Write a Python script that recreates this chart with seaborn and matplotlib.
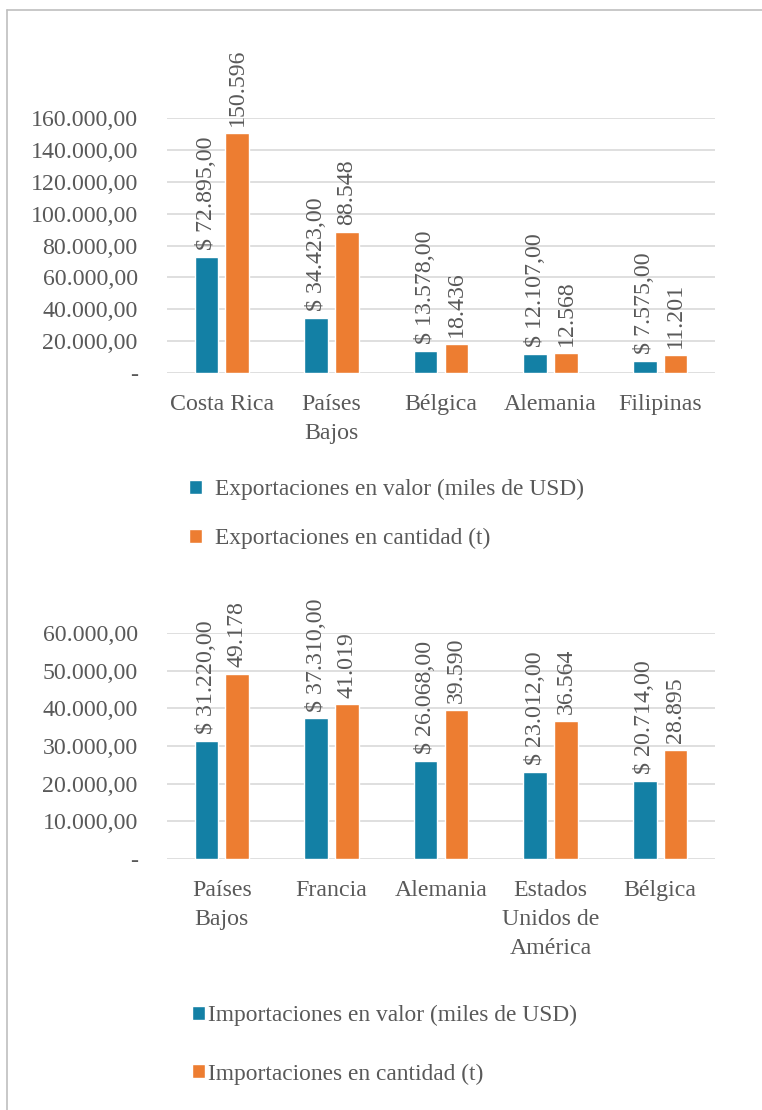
import matplotlib
matplotlib.use("Agg")
import matplotlib.pyplot as plt
from matplotlib.lines import Line2D
from matplotlib.ticker import FuncFormatter, MultipleLocator
import seaborn as sns
import pandas as pd

# ---- data ----
exp_countries = ["Costa Rica", "Países\nBajos", "Bélgica", "Alemania", "Filipinas"]
exp_valor = [72895, 34423, 13578, 12107, 7575]
exp_cantidad = [150596, 88548, 18436, 12568, 11201]
exp_series = ["Exportaciones en valor (miles de USD)", "Exportaciones en cantidad (t)"]

imp_countries = ["Países\nBajos", "Francia", "Alemania", "Estados\nUnidos de\nAmérica", "Bélgica"]
imp_valor = [31220, 37310, 26068, 23012, 20714]
imp_cantidad = [49178, 41019, 39590, 36564, 28895]
imp_series = ["Importaciones en valor (miles de USD)", "Importaciones en cantidad (t)"]

BLUE = "#1380A5"
ORANGE = "#ED7D31"
GRID = "#D9D9D9"
TXT = "#595959"
FS = 17.2
LFS = 16.8

sns.set_theme(style="white")
plt.rcParams["font.family"] = ["Liberation Serif", "DejaVu Serif"]
plt.rcParams["text.color"] = TXT

W, H = 762, 1110
fig = plt.figure(figsize=(W / 100, H / 100), dpi=100)


def es_num(v, dec):
    s = f"{v:,.{dec}f}"
    return s.replace(",", "X").replace(".", ",").replace("X", ".")


def tick_fmt(v, pos):
    if abs(v) < 1e-9:
        return "-"
    return es_num(v, 2)


def draw(rect, countries, valor, cantidad, series, ymax, ystep):
    ax = fig.add_axes(rect)
    df = pd.DataFrame({
        "pais": countries * 2,
        "serie": [series[0]] * len(countries) + [series[1]] * len(countries),
        "valor": list(valor) + list(cantidad),
    })
    sns.barplot(data=df, x="pais", y="valor", hue="serie", order=countries,
                hue_order=series, palette=[BLUE, ORANGE], width=0.56,
                ax=ax, errorbar=None, saturation=1)
    bw = 0.215
    for cont in ax.containers:
        for p in cont.patches:
            c = p.get_x() + p.get_width() / 2
            p.set_width(bw)
            p.set_x(c - bw / 2)
    labels0 = ["$ " + es_num(v, 2) for v in valor]
    labels1 = [es_num(v, 0) for v in cantidad]
    ax.bar_label(ax.containers[0], labels=labels0, rotation=90, padding=5,
                 fontsize=FS, color=TXT)
    ax.bar_label(ax.containers[1], labels=labels1, rotation=90, padding=5,
                 fontsize=FS, color=TXT)
    ax.set_ylim(0, ymax)
    ax.set_xlim(-0.5, len(countries) - 0.5)
    ax.yaxis.set_major_locator(MultipleLocator(ystep))
    ax.yaxis.set_major_formatter(FuncFormatter(tick_fmt))
    ax.grid(axis="y", color=GRID, linewidth=1.2)
    ax.set_axisbelow(True)
    for s in ax.spines.values():
        s.set_visible(False)
    ax.tick_params(axis="both", length=0, labelsize=FS, labelcolor=TXT)
    ax.tick_params(axis="y", pad=21)
    ax.tick_params(axis="x", pad=15)
    ax.set_xlabel("")
    ax.set_ylabel("")
    for t in ax.get_xticklabels():
        t.set_linespacing(1.5)
    leg = ax.get_legend()
    if leg is not None:
        leg.remove()
    return ax


ax1 = draw([167 / W, 1 - 373 / H, (715 - 167) / W, (373 - 118) / H],
           exp_countries, exp_valor, exp_cantidad, exp_series, 160000, 20000)
ax2 = draw([167 / W, 1 - 859 / H, (715 - 167) / W, (859 - 633) / H],
           imp_countries, imp_valor, imp_cantidad, imp_series, 60000, 10000)

h1 = [ax1.containers[0].patches[0], ax1.containers[1].patches[0]]
fig.legend(h1, exp_series, loc="upper left", bbox_to_anchor=(168 / W, 1 - 458 / H),
           bbox_transform=fig.transFigure, frameon=False, fontsize=LFS,
           handlelength=0.55, handleheight=0.55, handletextpad=0.55,
           labelspacing=1.2, labelcolor=TXT)
h2 = [ax2.containers[0].patches[0], ax2.containers[1].patches[0]]
fig.legend(h2, imp_series, loc="upper left", bbox_to_anchor=(171 / W, 1 - 984 / H),
           bbox_transform=fig.transFigure, frameon=False, fontsize=LFS,
           handlelength=0.55, handleheight=0.55, handletextpad=0.15,
           labelspacing=1.6, labelcolor=TXT)

# chart border (top and left edges)
fig.add_artist(Line2D([7 / W, 1], [1 - 10 / H, 1 - 10 / H], transform=fig.transFigure,
                      color="#BFBFBF", linewidth=1.2))
fig.add_artist(Line2D([7 / W, 7 / W], [0, 1 - 10 / H], transform=fig.transFigure,
                      color="#BFBFBF", linewidth=1.2))

fig.savefig("out.png", dpi=100, facecolor="white")
